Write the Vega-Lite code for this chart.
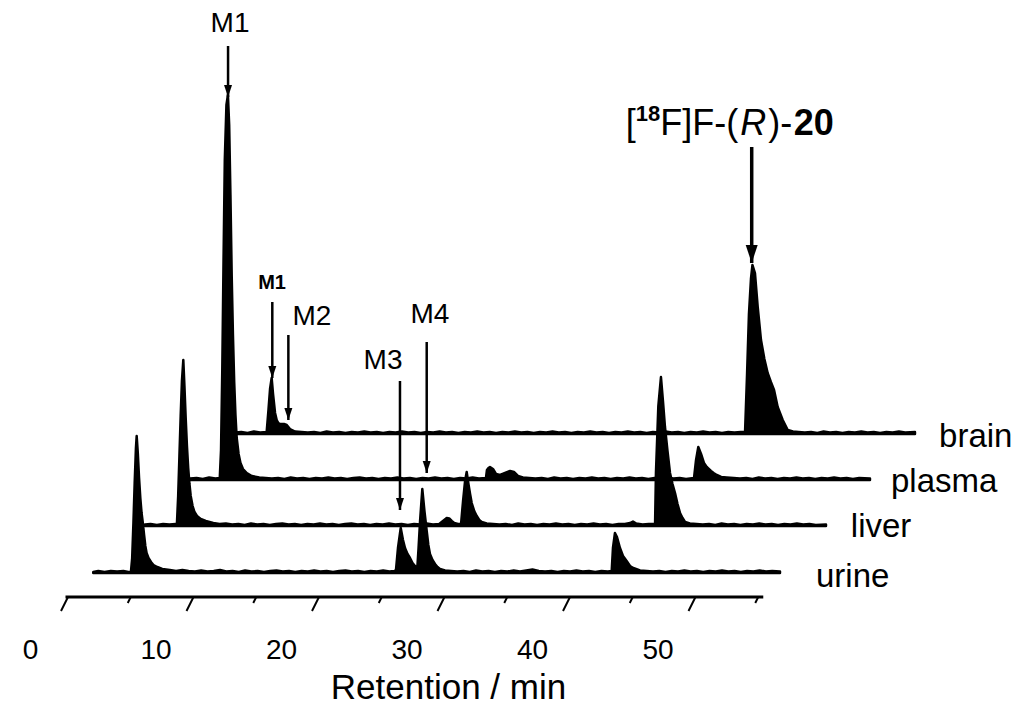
{
"$schema": "https://vega.github.io/schema/vega-lite/v6.json",
"width": 1024,
"height": 640,
"padding": 0,
"background": "white",
"config": {"view": {"stroke": null}, "text": {"font": "Liberation Sans", "color": "black"}, "axis": {"grid": false}},
"datasets": {
"urine": [{"time":0.1,"signal":1},{"time":0.5,"signal":2},{"time":1.0,"signal":1},{"time":1.5,"signal":2},{"time":2.0,"signal":1.5},{"time":2.5,"signal":2},{"time":2.9,"signal":1},{"time":3.1,"signal":1},{"time":3.2,"signal":15},{"time":3.3,"signal":50},{"time":3.4,"signal":90},{"time":3.5,"signal":125},{"time":3.56,"signal":137},{"time":3.65,"signal":120},{"time":3.75,"signal":95},{"time":3.85,"signal":75},{"time":3.95,"signal":60},{"time":4.05,"signal":50},{"time":4.15,"signal":38},{"time":4.25,"signal":27},{"time":4.35,"signal":20},{"time":4.5,"signal":15},{"time":4.7,"signal":11},{"time":4.9,"signal":8},{"time":5.2,"signal":6},{"time":5.6,"signal":4},{"time":6.2,"signal":3},{"time":6.7,"signal":2},{"time":7.2,"signal":3},{"time":7.7,"signal":2},{"time":8.2,"signal":1.5},{"time":8.7,"signal":2.5},{"time":9.2,"signal":1.5},{"time":9.7,"signal":2},{"time":10.2,"signal":3},{"time":10.7,"signal":1.5},{"time":11.2,"signal":2},{"time":11.7,"signal":1},{"time":12.2,"signal":2.5},{"time":12.7,"signal":1.5},{"time":13.2,"signal":2},{"time":13.7,"signal":1},{"time":14.2,"signal":2},{"time":14.7,"signal":2.5},{"time":15.2,"signal":1.5},{"time":15.7,"signal":2},{"time":16.2,"signal":1},{"time":16.7,"signal":2},{"time":17.2,"signal":1.5},{"time":17.7,"signal":2.5},{"time":18.2,"signal":1.5},{"time":18.7,"signal":2},{"time":19.2,"signal":1},{"time":19.7,"signal":2},{"time":20.2,"signal":2.5},{"time":20.7,"signal":1.5},{"time":21.2,"signal":2},{"time":21.7,"signal":1},{"time":22.2,"signal":2},{"time":22.7,"signal":1.5},{"time":23.2,"signal":2.5},{"time":23.7,"signal":1.5},{"time":24.1,"signal":2},{"time":24.22,"signal":3},{"time":24.38,"signal":25},{"time":24.6,"signal":45},{"time":24.78,"signal":33},{"time":24.94,"signal":25},{"time":25.14,"signal":19},{"time":25.34,"signal":15},{"time":25.54,"signal":10},{"time":25.74,"signal":7},{"time":25.92,"signal":5},{"time":26.02,"signal":25},{"time":26.14,"signal":52},{"time":26.32,"signal":84},{"time":26.49,"signal":62},{"time":26.67,"signal":42},{"time":26.8,"signal":28},{"time":26.93,"signal":19},{"time":27.13,"signal":13},{"time":27.33,"signal":9},{"time":27.53,"signal":6},{"time":27.73,"signal":4},{"time":28.13,"signal":2.5},{"time":28.6,"signal":2},{"time":29.1,"signal":1.5},{"time":29.6,"signal":2},{"time":30.1,"signal":1},{"time":30.6,"signal":2.5},{"time":31.1,"signal":1.5},{"time":31.6,"signal":2},{"time":32.1,"signal":1},{"time":32.6,"signal":2},{"time":33.1,"signal":1.5},{"time":33.6,"signal":2.5},{"time":34.1,"signal":1.5},{"time":34.6,"signal":2.5},{"time":35.1,"signal":3.5},{"time":35.6,"signal":2},{"time":36.1,"signal":1.5},{"time":36.6,"signal":2},{"time":37.1,"signal":1},{"time":37.6,"signal":2},{"time":38.1,"signal":1.5},{"time":38.6,"signal":2.5},{"time":39.1,"signal":1.5},{"time":39.6,"signal":2},{"time":40.1,"signal":1},{"time":40.6,"signal":2},{"time":41.1,"signal":1.5},{"time":41.41,"signal":2},{"time":41.51,"signal":25},{"time":41.67,"signal":40},{"time":41.83,"signal":36},{"time":42.07,"signal":25},{"time":42.31,"signal":17},{"time":42.6,"signal":12},{"time":42.87,"signal":7},{"time":43.13,"signal":5},{"time":43.67,"signal":2.5},{"time":44.2,"signal":2},{"time":44.7,"signal":1.5},{"time":45.2,"signal":2},{"time":45.7,"signal":1},{"time":46.2,"signal":2},{"time":46.7,"signal":1.5},{"time":47.2,"signal":2.5},{"time":47.7,"signal":1.5},{"time":48.2,"signal":2},{"time":48.7,"signal":1},{"time":49.2,"signal":2},{"time":49.7,"signal":1.5},{"time":50.2,"signal":2.5},{"time":50.7,"signal":1.5},{"time":51.2,"signal":2},{"time":51.7,"signal":1},{"time":52.2,"signal":2},{"time":52.7,"signal":1.5},{"time":53.2,"signal":2.5},{"time":53.7,"signal":1.5},{"time":54.2,"signal":2},{"time":54.82,"signal":1.5}],
"liver": [{"time":0.56,"signal":1.5},{"time":1.0,"signal":2},{"time":1.5,"signal":1},{"time":2.0,"signal":2},{"time":2.5,"signal":1.5},{"time":3.0,"signal":2},{"time":3.1,"signal":2},{"time":3.2,"signal":30},{"time":3.3,"signal":70},{"time":3.4,"signal":110},{"time":3.5,"signal":145},{"time":3.61,"signal":166},{"time":3.7,"signal":140},{"time":3.8,"signal":108},{"time":3.9,"signal":80},{"time":4.0,"signal":58},{"time":4.1,"signal":42},{"time":4.2,"signal":30},{"time":4.35,"signal":20},{"time":4.5,"signal":14},{"time":4.7,"signal":10},{"time":5.0,"signal":7},{"time":5.4,"signal":5},{"time":6.0,"signal":3},{"time":6.5,"signal":2},{"time":7.0,"signal":2.5},{"time":7.5,"signal":1.5},{"time":8.0,"signal":2},{"time":8.5,"signal":1},{"time":9.0,"signal":2.5},{"time":9.5,"signal":1.5},{"time":10.0,"signal":2},{"time":10.5,"signal":1},{"time":11.0,"signal":2},{"time":11.5,"signal":2.5},{"time":12.0,"signal":1.5},{"time":12.5,"signal":2},{"time":13.0,"signal":1},{"time":13.5,"signal":2},{"time":14.0,"signal":1.5},{"time":14.5,"signal":2.5},{"time":15.0,"signal":1.5},{"time":15.5,"signal":2},{"time":16.0,"signal":1},{"time":16.5,"signal":2},{"time":17.0,"signal":2.5},{"time":17.5,"signal":1.5},{"time":18.0,"signal":2},{"time":18.5,"signal":1},{"time":19.0,"signal":2},{"time":19.5,"signal":1.5},{"time":20.0,"signal":2.5},{"time":20.5,"signal":1.5},{"time":21.0,"signal":2},{"time":21.5,"signal":1},{"time":22.0,"signal":2},{"time":22.5,"signal":1.5},{"time":23.0,"signal":2.5},{"time":23.5,"signal":1.5},{"time":24.0,"signal":2},{"time":24.2,"signal":4},{"time":24.4,"signal":6},{"time":24.6,"signal":8},{"time":24.8,"signal":7.5},{"time":25.0,"signal":5},{"time":25.2,"signal":3},{"time":25.5,"signal":2},{"time":25.74,"signal":2},{"time":25.9,"signal":25},{"time":26.06,"signal":45},{"time":26.19,"signal":54},{"time":26.33,"signal":42},{"time":26.46,"signal":32},{"time":26.59,"signal":23},{"time":26.79,"signal":15},{"time":26.99,"signal":10},{"time":27.19,"signal":6},{"time":27.39,"signal":4},{"time":27.78,"signal":2.5},{"time":28.3,"signal":2},{"time":28.8,"signal":1.5},{"time":29.3,"signal":2},{"time":29.8,"signal":1},{"time":30.3,"signal":2.5},{"time":30.8,"signal":1.5},{"time":31.3,"signal":2},{"time":31.8,"signal":1},{"time":32.3,"signal":2},{"time":32.8,"signal":1.5},{"time":33.3,"signal":2.5},{"time":33.8,"signal":1.5},{"time":34.3,"signal":2},{"time":34.8,"signal":1},{"time":35.3,"signal":2},{"time":35.8,"signal":1.5},{"time":36.3,"signal":2.5},{"time":36.8,"signal":1.5},{"time":37.3,"signal":2},{"time":37.8,"signal":1},{"time":38.3,"signal":2},{"time":38.8,"signal":2},{"time":39.2,"signal":3},{"time":39.44,"signal":4.5},{"time":39.7,"signal":2.5},{"time":40.2,"signal":1.5},{"time":40.7,"signal":2},{"time":41.2,"signal":2},{"time":41.27,"signal":53},{"time":41.46,"signal":120},{"time":41.67,"signal":149},{"time":41.83,"signal":125},{"time":41.99,"signal":99},{"time":42.19,"signal":75},{"time":42.39,"signal":53},{"time":42.59,"signal":42},{"time":42.79,"signal":33},{"time":42.99,"signal":22},{"time":43.19,"signal":13},{"time":43.39,"signal":8},{"time":43.59,"signal":4},{"time":43.98,"signal":2.5},{"time":44.5,"signal":2},{"time":45.0,"signal":1.5},{"time":45.5,"signal":2},{"time":46.0,"signal":1},{"time":46.5,"signal":2.5},{"time":47.0,"signal":1.5},{"time":47.5,"signal":2},{"time":48.0,"signal":1},{"time":48.5,"signal":2},{"time":49.0,"signal":1.5},{"time":49.5,"signal":2.5},{"time":50.0,"signal":1.5},{"time":50.5,"signal":2},{"time":51.0,"signal":1},{"time":51.5,"signal":2},{"time":52.0,"signal":1.5},{"time":52.5,"signal":2.5},{"time":53.0,"signal":1.5},{"time":53.5,"signal":2},{"time":54.0,"signal":1},{"time":54.82,"signal":1.5}],
"plasma": [{"time":0.48,"signal":1.5},{"time":1.0,"signal":2},{"time":1.5,"signal":1},{"time":2.0,"signal":2.5},{"time":2.5,"signal":1.5},{"time":2.85,"signal":2},{"time":2.95,"signal":30},{"time":3.05,"signal":110},{"time":3.15,"signal":220},{"time":3.25,"signal":320},{"time":3.38,"signal":375},{"time":3.5,"signal":385},{"time":3.6,"signal":355},{"time":3.7,"signal":285},{"time":3.8,"signal":205},{"time":3.9,"signal":145},{"time":4.0,"signal":98},{"time":4.1,"signal":65},{"time":4.2,"signal":42},{"time":4.35,"signal":26},{"time":4.5,"signal":17},{"time":4.7,"signal":11},{"time":5.0,"signal":7},{"time":5.4,"signal":4},{"time":6.0,"signal":2.5},{"time":6.5,"signal":2},{"time":7.0,"signal":1.5},{"time":7.5,"signal":2},{"time":8.0,"signal":1},{"time":8.5,"signal":2.5},{"time":9.0,"signal":1.5},{"time":9.5,"signal":2},{"time":10.0,"signal":1},{"time":10.5,"signal":2},{"time":11.0,"signal":1.5},{"time":11.5,"signal":2.5},{"time":12.0,"signal":1.5},{"time":12.5,"signal":2},{"time":13.0,"signal":1},{"time":13.5,"signal":2},{"time":14.0,"signal":2.5},{"time":14.5,"signal":1.5},{"time":15.0,"signal":2},{"time":15.5,"signal":1},{"time":16.0,"signal":2},{"time":16.5,"signal":1.5},{"time":17.0,"signal":2.5},{"time":17.5,"signal":1.5},{"time":18.0,"signal":2},{"time":18.5,"signal":1},{"time":19.0,"signal":2},{"time":19.5,"signal":1.5},{"time":20.0,"signal":2.5},{"time":20.5,"signal":1.5},{"time":21.0,"signal":2},{"time":21.5,"signal":1},{"time":22.0,"signal":2},{"time":22.5,"signal":1.5},{"time":23.0,"signal":2.5},{"time":23.5,"signal":1.5},{"time":24.06,"signal":2},{"time":24.14,"signal":10},{"time":24.26,"signal":12},{"time":24.38,"signal":13},{"time":24.5,"signal":12},{"time":24.62,"signal":11},{"time":24.86,"signal":6},{"time":25.18,"signal":5},{"time":25.58,"signal":7},{"time":25.98,"signal":9},{"time":26.29,"signal":8},{"time":26.61,"signal":4},{"time":27.01,"signal":2.5},{"time":27.5,"signal":2},{"time":28.0,"signal":1.5},{"time":28.5,"signal":2},{"time":29.0,"signal":1},{"time":29.5,"signal":2.5},{"time":30.0,"signal":1.5},{"time":30.5,"signal":2},{"time":31.0,"signal":1},{"time":31.5,"signal":2},{"time":32.0,"signal":1.5},{"time":32.5,"signal":2.5},{"time":33.0,"signal":1.5},{"time":33.5,"signal":2},{"time":34.0,"signal":1},{"time":34.5,"signal":2},{"time":35.0,"signal":1.5},{"time":35.5,"signal":2.5},{"time":36.0,"signal":1.5},{"time":36.5,"signal":2},{"time":37.0,"signal":1},{"time":37.5,"signal":2},{"time":38.0,"signal":1.5},{"time":38.5,"signal":2.5},{"time":39.0,"signal":1.5},{"time":39.5,"signal":2},{"time":40.0,"signal":1},{"time":40.64,"signal":2},{"time":40.8,"signal":20},{"time":40.98,"signal":33},{"time":41.2,"signal":26},{"time":41.43,"signal":17},{"time":41.65,"signal":13},{"time":41.99,"signal":9},{"time":42.2,"signal":7},{"time":42.45,"signal":5},{"time":42.8,"signal":3},{"time":43.24,"signal":2.5},{"time":43.8,"signal":2},{"time":44.3,"signal":1.5},{"time":44.8,"signal":2},{"time":45.3,"signal":1},{"time":45.8,"signal":2.5},{"time":46.3,"signal":1.5},{"time":46.8,"signal":2},{"time":47.3,"signal":1},{"time":47.8,"signal":2},{"time":48.3,"signal":1.5},{"time":48.8,"signal":2.5},{"time":49.3,"signal":1.5},{"time":49.8,"signal":2},{"time":50.3,"signal":1},{"time":50.8,"signal":2},{"time":51.3,"signal":1.5},{"time":51.8,"signal":2.5},{"time":52.3,"signal":1.5},{"time":52.8,"signal":2},{"time":53.3,"signal":1},{"time":53.8,"signal":2},{"time":54.66,"signal":1.5}],
"brain": [{"time":0.4,"signal":1.5},{"time":0.9,"signal":2},{"time":1.4,"signal":1},{"time":1.9,"signal":2.5},{"time":2.4,"signal":1.5},{"time":2.92,"signal":2},{"time":3.07,"signal":25},{"time":3.19,"signal":45},{"time":3.32,"signal":56},{"time":3.43,"signal":40},{"time":3.59,"signal":21},{"time":3.72,"signal":14},{"time":3.85,"signal":11},{"time":4.0,"signal":10},{"time":4.12,"signal":10},{"time":4.3,"signal":10},{"time":4.52,"signal":9},{"time":4.65,"signal":7},{"time":4.78,"signal":5},{"time":5.18,"signal":2.5},{"time":5.7,"signal":2},{"time":6.2,"signal":1.5},{"time":6.7,"signal":2},{"time":7.2,"signal":1},{"time":7.7,"signal":2.5},{"time":8.2,"signal":1.5},{"time":8.7,"signal":2},{"time":9.2,"signal":1},{"time":9.7,"signal":2},{"time":10.2,"signal":1.5},{"time":10.7,"signal":2.5},{"time":11.2,"signal":1.5},{"time":11.7,"signal":2},{"time":12.2,"signal":1},{"time":12.7,"signal":2},{"time":13.2,"signal":1.5},{"time":13.7,"signal":2.5},{"time":14.2,"signal":1.5},{"time":14.7,"signal":2},{"time":15.2,"signal":1},{"time":15.7,"signal":2},{"time":16.2,"signal":1.5},{"time":16.7,"signal":2.5},{"time":17.2,"signal":1.5},{"time":17.7,"signal":2},{"time":18.2,"signal":1},{"time":18.7,"signal":2},{"time":19.2,"signal":1.5},{"time":19.7,"signal":2.5},{"time":20.2,"signal":1.5},{"time":20.7,"signal":2},{"time":21.2,"signal":1},{"time":21.7,"signal":2},{"time":22.2,"signal":1.5},{"time":22.7,"signal":2.5},{"time":23.2,"signal":1.5},{"time":23.7,"signal":2},{"time":24.2,"signal":1},{"time":24.7,"signal":2},{"time":25.2,"signal":1.5},{"time":25.7,"signal":2.5},{"time":26.2,"signal":1.5},{"time":26.7,"signal":2},{"time":27.2,"signal":1},{"time":27.7,"signal":2},{"time":28.2,"signal":1.5},{"time":28.7,"signal":2.5},{"time":29.2,"signal":1.5},{"time":29.7,"signal":2},{"time":30.2,"signal":1},{"time":30.7,"signal":2},{"time":31.2,"signal":1.5},{"time":31.7,"signal":2.5},{"time":32.2,"signal":1.5},{"time":32.7,"signal":2},{"time":33.2,"signal":1},{"time":33.7,"signal":2},{"time":34.2,"signal":1.5},{"time":34.7,"signal":2.5},{"time":35.2,"signal":1.5},{"time":35.7,"signal":2},{"time":36.2,"signal":1},{"time":36.7,"signal":2},{"time":37.2,"signal":1.5},{"time":37.7,"signal":2.5},{"time":38.2,"signal":1.5},{"time":38.7,"signal":2},{"time":39.2,"signal":1},{"time":39.7,"signal":2},{"time":40.2,"signal":1.5},{"time":40.7,"signal":2},{"time":41.04,"signal":2},{"time":41.2,"signal":60},{"time":41.35,"signal":120},{"time":41.51,"signal":155},{"time":41.63,"signal":169},{"time":41.83,"signal":161},{"time":42.05,"signal":127},{"time":42.31,"signal":94},{"time":42.58,"signal":75},{"time":42.84,"signal":61},{"time":43.1,"signal":52},{"time":43.35,"signal":44},{"time":43.64,"signal":27},{"time":44.04,"signal":14},{"time":44.44,"signal":4},{"time":44.86,"signal":2.5},{"time":45.3,"signal":2},{"time":45.8,"signal":1.5},{"time":46.3,"signal":2},{"time":46.8,"signal":1},{"time":47.3,"signal":2.5},{"time":47.8,"signal":1.5},{"time":48.3,"signal":2},{"time":48.8,"signal":1},{"time":49.3,"signal":2},{"time":49.8,"signal":1.5},{"time":50.3,"signal":2.5},{"time":50.8,"signal":1.5},{"time":51.3,"signal":2},{"time":51.8,"signal":1},{"time":52.3,"signal":2},{"time":52.8,"signal":1.5},{"time":53.3,"signal":2.5},{"time":53.8,"signal":1.5},{"time":54.58,"signal":2}],
"arrows": [
{"trace":"plasma","label":"M1","time":3.51,"top":434,"tip":383},
{"trace":"brain","label":"M1","time":3.37,"top":132,"tip":56},
{"trace":"brain","label":"M2","time":4.65,"top":99,"tip":14},
{"trace":"brain","label":"[18F]F-(R)-20","time":41.57,"top":287,"tip":171},
{"trace":"urine","label":"M3","time":24.54,"top":192,"tip":63},
{"trace":"urine","label":"M4","time":26.67,"top":231,"tip":100}
],
"notes": [
{"trace":"plasma","label":"M1","time":3.67,"signal":448},
{"trace":"brain","label":"M1","time":3.35,"signal":145},
{"trace":"brain","label":"M2","time":6.53,"signal":109},
{"trace":"urine","label":"M3","time":23.19,"signal":204},
{"trace":"urine","label":"M4","time":26.93,"signal":250}
],
"parentLabel": [{"time":41.57,"signal":299,"open":"[","mass":"18","mid":"F]F-(","stereo":"R","close":")-","compound":"20"}],
"samples": [
{"trace":"brain","label":"brain","time":56.5,"signal":-13},
{"trace":"plasma","label":"plasma","time":56.33,"signal":-12},
{"trace":"liver","label":"liver","time":56.8,"signal":-11},
{"trace":"urine","label":"urine","time":57.69,"signal":-14}
],
"ticks": [{"time":0,"kind":"major","front":-24},{"time":5,"kind":"minor","front":-24},{"time":10,"kind":"major","front":-24},{"time":15,"kind":"minor","front":-24},{"time":20,"kind":"major","front":-24},{"time":25,"kind":"minor","front":-24},{"time":30,"kind":"major","front":-24},{"time":35,"kind":"minor","front":-24},{"time":40,"kind":"major","front":-24},{"time":45,"kind":"minor","front":-24},{"time":50,"kind":"major","front":-24},{"time":55,"kind":"minor","front":-24}],
"axisRange": [{"start":-0.2,"end":55.4,"front":-24}]
},
"layer": [
{"data":{"name":"ticks"},
 "transform":[{"filter":"datum.kind == 'major'"}],
 "mark":{"type":"rule","color":"black","strokeWidth":2,"xOffset":-24,"x2Offset":-31,"y2Offset":14},
 "encoding":{
  "x":{"field":"time","type":"quantitative","scale":{"domain":[-7.331,74.263],"nice":false,"zero":false},
   "axis":{"orient":"bottom","values":[0,10,20,30,40,50],"title":"Retention / min","domain":false,"ticks":false,"tickSize":0,"grid":false,"labelOffset":-62,"labelPadding":18,"labelBaseline":"alphabetic","labelFontSize":28,"labelFont":"Liberation Sans","labelColor":"black","labelFlush":false,"labelOverlap":false,"titleFontSize":35,"titleFont":"Liberation Sans","titleFontWeight":"normal","titleColor":"black","titleX":448,"titleY":58,"titleBaseline":"alphabetic","titleAlign":"center"}},
  "x2":{"field":"time"},
  "y":{"field":"front","type":"quantitative","scale":{"domain":[-67,573],"nice":false,"zero":false},"axis":null},
  "y2":{"field":"front"}}},
{"data":{"name":"ticks"},
 "transform":[{"filter":"datum.kind == 'minor'"}],
 "mark":{"type":"rule","color":"black","strokeWidth":2,"xOffset":-24,"x2Offset":-27,"y2Offset":6},
 "encoding":{
  "x":{"field":"time","type":"quantitative","scale":{"domain":[-7.331,74.263],"nice":false,"zero":false}},
  "x2":{"field":"time"},
  "y":{"field":"front","type":"quantitative","scale":{"domain":[-67,573],"nice":false,"zero":false},"axis":null},
  "y2":{"field":"front"}}},
{"data":{"name":"axisRange"},
 "mark":{"type":"rule","color":"black","strokeWidth":3,"xOffset":-24,"x2Offset":-24},
 "encoding":{
  "x":{"field":"start","type":"quantitative","scale":{"domain":[-7.331,74.263],"nice":false,"zero":false}},
  "x2":{"field":"end"},
  "y":{"field":"front","type":"quantitative","scale":{"domain":[-67,573],"nice":false,"zero":false},"axis":null}}},
{"data":{"name":"urine"},
 "mark":{"type":"area","color":"black","stroke":"black","strokeWidth":2.5,"strokeJoin":"round"},
 "encoding":{
  "x":{"field":"time","type":"quantitative","scale":{"domain":[-7.331,74.263],"nice":false,"zero":false}},
  "y":{"field":"signal","type":"quantitative","scale":{"domain":[-67,573],"nice":false,"zero":false},"axis":null},
  "y2":{"datum":0}}},
{"data":{"name":"liver"},
 "mark":{"type":"area","color":"black","stroke":"black","strokeWidth":2.5,"strokeJoin":"round","xOffset":46,"yOffset":-47,"y2Offset":-47},
 "encoding":{
  "x":{"field":"time","type":"quantitative","scale":{"domain":[-7.331,74.263],"nice":false,"zero":false}},
  "y":{"field":"signal","type":"quantitative","scale":{"domain":[-67,573],"nice":false,"zero":false},"axis":null},
  "y2":{"datum":0}}},
{"data":{"name":"plasma"},
 "mark":{"type":"area","color":"black","stroke":"black","strokeWidth":2.5,"strokeJoin":"round","xOffset":92,"yOffset":-93,"y2Offset":-93},
 "encoding":{
  "x":{"field":"time","type":"quantitative","scale":{"domain":[-7.331,74.263],"nice":false,"zero":false}},
  "y":{"field":"signal","type":"quantitative","scale":{"domain":[-67,573],"nice":false,"zero":false},"axis":null},
  "y2":{"datum":0}}},
{"data":{"name":"brain"},
 "mark":{"type":"area","color":"black","stroke":"black","strokeWidth":2.5,"strokeJoin":"round","xOffset":138,"yOffset":-139,"y2Offset":-139},
 "encoding":{
  "x":{"field":"time","type":"quantitative","scale":{"domain":[-7.331,74.263],"nice":false,"zero":false}},
  "y":{"field":"signal","type":"quantitative","scale":{"domain":[-67,573],"nice":false,"zero":false},"axis":null},
  "y2":{"datum":0}}},
{"data":{"name":"arrows"},
 "transform":[{"filter":"datum.trace == 'urine'"}],
 "mark":{"type":"rule","color":"black","strokeWidth":2.5},
 "encoding":{
  "x":{"field":"time","type":"quantitative","scale":{"domain":[-7.331,74.263],"nice":false,"zero":false}},
  "y":{"field":"top","type":"quantitative","scale":{"domain":[-67,573],"nice":false,"zero":false},"axis":null},"y2":{"field":"tip"}}},
{"data":{"name":"arrows"},
 "transform":[{"filter":"datum.trace == 'urine'"}],
 "mark":{"type":"point","shape":"M-0.333,-1L0.333,-1L0,0Z","filled":true,"color":"black","opacity":1,"size":576,"strokeWidth":0},
 "encoding":{
  "x":{"field":"time","type":"quantitative","scale":{"domain":[-7.331,74.263],"nice":false,"zero":false}},
  "y":{"field":"tip","type":"quantitative","scale":{"domain":[-67,573],"nice":false,"zero":false},"axis":null}}},
{"data":{"name":"arrows"},
 "transform":[{"filter":"datum.trace == 'plasma'"}],
 "mark":{"type":"rule","color":"black","strokeWidth":2.5,"xOffset":92,"yOffset":-93,"y2Offset":-93},
 "encoding":{
  "x":{"field":"time","type":"quantitative","scale":{"domain":[-7.331,74.263],"nice":false,"zero":false}},
  "y":{"field":"top","type":"quantitative","scale":{"domain":[-67,573],"nice":false,"zero":false},"axis":null},"y2":{"field":"tip"}}},
{"data":{"name":"arrows"},
 "transform":[{"filter":"datum.trace == 'plasma'"}],
 "mark":{"type":"point","shape":"M-0.333,-1L0.333,-1L0,0Z","filled":true,"color":"black","opacity":1,"size":576,"strokeWidth":0,"xOffset":92,"yOffset":-93},
 "encoding":{
  "x":{"field":"time","type":"quantitative","scale":{"domain":[-7.331,74.263],"nice":false,"zero":false}},
  "y":{"field":"tip","type":"quantitative","scale":{"domain":[-67,573],"nice":false,"zero":false},"axis":null}}},
{"data":{"name":"arrows"},
 "transform":[{"filter":"datum.trace == 'brain' && datum.label != '[18F]F-(R)-20'"}],
 "mark":{"type":"rule","color":"black","strokeWidth":2.5,"xOffset":138,"yOffset":-139,"y2Offset":-139},
 "encoding":{
  "x":{"field":"time","type":"quantitative","scale":{"domain":[-7.331,74.263],"nice":false,"zero":false}},
  "y":{"field":"top","type":"quantitative","scale":{"domain":[-67,573],"nice":false,"zero":false},"axis":null},"y2":{"field":"tip"}}},
{"data":{"name":"arrows"},
 "transform":[{"filter":"datum.trace == 'brain' && datum.label != '[18F]F-(R)-20'"}],
 "mark":{"type":"point","shape":"M-0.333,-1L0.333,-1L0,0Z","filled":true,"color":"black","opacity":1,"size":576,"strokeWidth":0,"xOffset":138,"yOffset":-139},
 "encoding":{
  "x":{"field":"time","type":"quantitative","scale":{"domain":[-7.331,74.263],"nice":false,"zero":false}},
  "y":{"field":"tip","type":"quantitative","scale":{"domain":[-67,573],"nice":false,"zero":false},"axis":null}}},
{"data":{"name":"arrows"},
 "transform":[{"filter":"datum.label == '[18F]F-(R)-20'"}],
 "mark":{"type":"rule","color":"black","strokeWidth":3.5,"xOffset":138,"yOffset":-139,"y2Offset":-139},
 "encoding":{
  "x":{"field":"time","type":"quantitative","scale":{"domain":[-7.331,74.263],"nice":false,"zero":false}},
  "y":{"field":"top","type":"quantitative","scale":{"domain":[-67,573],"nice":false,"zero":false},"axis":null},"y2":{"field":"tip"}}},
{"data":{"name":"arrows"},
 "transform":[{"filter":"datum.label == '[18F]F-(R)-20'"}],
 "mark":{"type":"point","shape":"M-0.333,-1L0.333,-1L0,0Z","filled":true,"color":"black","opacity":1,"size":1296,"strokeWidth":0,"xOffset":138,"yOffset":-139},
 "encoding":{
  "x":{"field":"time","type":"quantitative","scale":{"domain":[-7.331,74.263],"nice":false,"zero":false}},
  "y":{"field":"tip","type":"quantitative","scale":{"domain":[-67,573],"nice":false,"zero":false},"axis":null}}},
{"data":{"name":"notes"},
 "transform":[{"filter":"datum.trace == 'urine'"}],
 "mark":{"type":"text","fontSize":28,"align":"center","baseline":"alphabetic","font":"Liberation Sans","color":"black"},
 "encoding":{
  "x":{"field":"time","type":"quantitative","scale":{"domain":[-7.331,74.263],"nice":false,"zero":false}},
  "y":{"field":"signal","type":"quantitative","scale":{"domain":[-67,573],"nice":false,"zero":false},"axis":null},
  "text":{"field":"label"}}},
{"data":{"name":"notes"},
 "transform":[{"filter":"datum.trace == 'plasma'"}],
 "mark":{"type":"text","fontSize":28,"align":"center","baseline":"alphabetic","font":"Liberation Sans","color":"black","xOffset":92,"yOffset":-93},
 "encoding":{
  "x":{"field":"time","type":"quantitative","scale":{"domain":[-7.331,74.263],"nice":false,"zero":false}},
  "y":{"field":"signal","type":"quantitative","scale":{"domain":[-67,573],"nice":false,"zero":false},"axis":null},
  "text":{"field":"label"}}},
{"data":{"name":"notes"},
 "transform":[{"filter":"datum.trace == 'brain' && datum.label == 'M2'"}],
 "mark":{"type":"text","fontSize":28,"align":"center","baseline":"alphabetic","font":"Liberation Sans","color":"black","xOffset":138,"yOffset":-139},
 "encoding":{
  "x":{"field":"time","type":"quantitative","scale":{"domain":[-7.331,74.263],"nice":false,"zero":false}},
  "y":{"field":"signal","type":"quantitative","scale":{"domain":[-67,573],"nice":false,"zero":false},"axis":null},
  "text":{"field":"label"}}},
{"data":{"name":"notes"},
 "transform":[{"filter":"datum.trace == 'brain' && datum.label == 'M1'"}],
 "mark":{"type":"text","fontSize":20,"fontWeight":"bold","align":"center","baseline":"alphabetic","font":"Liberation Sans","color":"black","xOffset":138,"yOffset":-139},
 "encoding":{
  "x":{"field":"time","type":"quantitative","scale":{"domain":[-7.331,74.263],"nice":false,"zero":false}},
  "y":{"field":"signal","type":"quantitative","scale":{"domain":[-67,573],"nice":false,"zero":false},"axis":null},
  "text":{"field":"label"}}},
{"data":{"name":"parentLabel"},
 "mark":{"type":"text","fontSize":36,"align":"left","baseline":"alphabetic","font":"Liberation Sans","color":"black","xOffset":138,"yOffset":-139,"dx":-126},
 "encoding":{
  "x":{"field":"time","type":"quantitative","scale":{"domain":[-7.331,74.263],"nice":false,"zero":false}},
  "y":{"field":"signal","type":"quantitative","scale":{"domain":[-67,573],"nice":false,"zero":false},"axis":null},
  "text":{"field":"open"}}},
{"data":{"name":"parentLabel"},
 "mark":{"type":"text","fontSize":22,"fontWeight":"bold","align":"left","baseline":"alphabetic","font":"Liberation Sans","color":"black","xOffset":138,"yOffset":-139,"dx":-116,"dy":-14},
 "encoding":{
  "x":{"field":"time","type":"quantitative","scale":{"domain":[-7.331,74.263],"nice":false,"zero":false}},
  "y":{"field":"signal","type":"quantitative","scale":{"domain":[-67,573],"nice":false,"zero":false},"axis":null},
  "text":{"field":"mass"}}},
{"data":{"name":"parentLabel"},
 "mark":{"type":"text","fontSize":36,"align":"left","baseline":"alphabetic","font":"Liberation Sans","color":"black","xOffset":138,"yOffset":-139,"dx":-91.5},
 "encoding":{
  "x":{"field":"time","type":"quantitative","scale":{"domain":[-7.331,74.263],"nice":false,"zero":false}},
  "y":{"field":"signal","type":"quantitative","scale":{"domain":[-67,573],"nice":false,"zero":false},"axis":null},
  "text":{"field":"mid"}}},
{"data":{"name":"parentLabel"},
 "mark":{"type":"text","fontSize":36,"fontStyle":"italic","align":"left","baseline":"alphabetic","font":"Liberation Sans","color":"black","xOffset":138,"yOffset":-139,"dx":-11.5},
 "encoding":{
  "x":{"field":"time","type":"quantitative","scale":{"domain":[-7.331,74.263],"nice":false,"zero":false}},
  "y":{"field":"signal","type":"quantitative","scale":{"domain":[-67,573],"nice":false,"zero":false},"axis":null},
  "text":{"field":"stereo"}}},
{"data":{"name":"parentLabel"},
 "mark":{"type":"text","fontSize":36,"align":"left","baseline":"alphabetic","font":"Liberation Sans","color":"black","xOffset":138,"yOffset":-139,"dx":16.5},
 "encoding":{
  "x":{"field":"time","type":"quantitative","scale":{"domain":[-7.331,74.263],"nice":false,"zero":false}},
  "y":{"field":"signal","type":"quantitative","scale":{"domain":[-67,573],"nice":false,"zero":false},"axis":null},
  "text":{"field":"close"}}},
{"data":{"name":"parentLabel"},
 "mark":{"type":"text","fontSize":36,"fontWeight":"bold","align":"left","baseline":"alphabetic","font":"Liberation Sans","color":"black","xOffset":138,"yOffset":-139,"dx":42},
 "encoding":{
  "x":{"field":"time","type":"quantitative","scale":{"domain":[-7.331,74.263],"nice":false,"zero":false}},
  "y":{"field":"signal","type":"quantitative","scale":{"domain":[-67,573],"nice":false,"zero":false},"axis":null},
  "text":{"field":"compound"}}},
{"data":{"name":"samples"},
 "transform":[{"filter":"datum.trace == 'urine'"}],
 "mark":{"type":"text","fontSize":33,"align":"left","baseline":"alphabetic","font":"Liberation Sans","color":"black"},
 "encoding":{
  "x":{"field":"time","type":"quantitative","scale":{"domain":[-7.331,74.263],"nice":false,"zero":false}},
  "y":{"field":"signal","type":"quantitative","scale":{"domain":[-67,573],"nice":false,"zero":false},"axis":null},
  "text":{"field":"label"}}},
{"data":{"name":"samples"},
 "transform":[{"filter":"datum.trace == 'liver'"}],
 "mark":{"type":"text","fontSize":33,"align":"left","baseline":"alphabetic","font":"Liberation Sans","color":"black","xOffset":46,"yOffset":-47},
 "encoding":{
  "x":{"field":"time","type":"quantitative","scale":{"domain":[-7.331,74.263],"nice":false,"zero":false}},
  "y":{"field":"signal","type":"quantitative","scale":{"domain":[-67,573],"nice":false,"zero":false},"axis":null},
  "text":{"field":"label"}}},
{"data":{"name":"samples"},
 "transform":[{"filter":"datum.trace == 'plasma'"}],
 "mark":{"type":"text","fontSize":33,"align":"left","baseline":"alphabetic","font":"Liberation Sans","color":"black","xOffset":92,"yOffset":-93},
 "encoding":{
  "x":{"field":"time","type":"quantitative","scale":{"domain":[-7.331,74.263],"nice":false,"zero":false}},
  "y":{"field":"signal","type":"quantitative","scale":{"domain":[-67,573],"nice":false,"zero":false},"axis":null},
  "text":{"field":"label"}}},
{"data":{"name":"samples"},
 "transform":[{"filter":"datum.trace == 'brain'"}],
 "mark":{"type":"text","fontSize":33,"align":"left","baseline":"alphabetic","font":"Liberation Sans","color":"black","xOffset":138,"yOffset":-139},
 "encoding":{
  "x":{"field":"time","type":"quantitative","scale":{"domain":[-7.331,74.263],"nice":false,"zero":false}},
  "y":{"field":"signal","type":"quantitative","scale":{"domain":[-67,573],"nice":false,"zero":false},"axis":null},
  "text":{"field":"label"}}}
]
}
